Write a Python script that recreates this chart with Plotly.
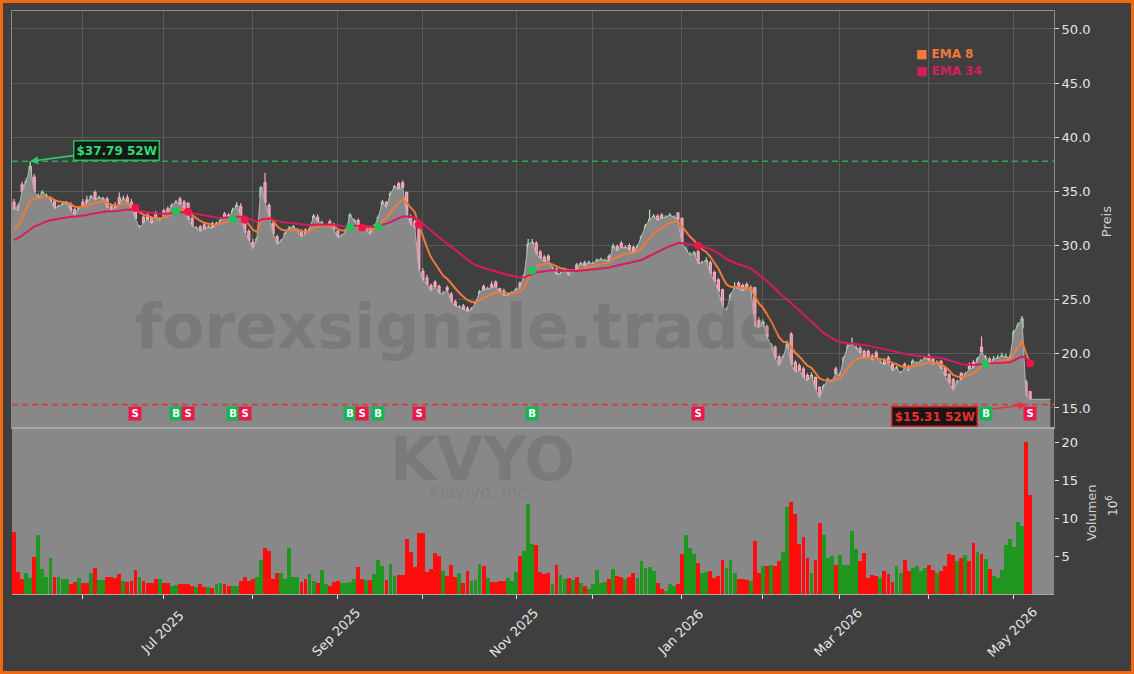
import pandas as pd
import plotly.graph_objects as go
from plotly.subplots import make_subplots

# ---------------- data ----------------
open_ = [
    34.0, 33.6, 35.6, 35.2, 36.0, 36.3, 33.9, 34.2, 34.3, 33.6,
    34.1, 33.0, 33.4, 33.5, 33.8, 33.3, 32.8, 34.0, 34.2, 33.8,
    34.9, 33.9, 34.0, 34.3, 33.6, 33.7, 34.4, 33.8, 34.4, 34.0,
    33.4, 31.0, 32.6, 32.8, 32.5, 33.0, 31.9, 33.2, 33.4, 33.1,
    33.5, 34.3, 34.0, 33.9, 32.5, 31.2, 31.7, 31.9, 31.3, 32.0,
    31.6, 31.9, 32.9, 32.8, 32.6, 33.0, 33.6, 32.4, 31.3, 30.3,
    29.9, 34.5, 35.8, 33.7, 32.0, 30.8, 29.9, 30.5, 30.9, 31.2,
    31.0, 31.3, 31.4, 31.0, 31.8, 32.6, 31.6, 31.5, 32.2, 31.9,
    31.3, 30.4, 30.9, 31.8, 31.9, 32.3, 31.8, 31.0, 31.6, 31.3,
    31.9, 33.0, 34.0, 33.7, 34.8, 35.7, 35.8, 34.9, 32.6, 32.2,
    32.2, 27.6, 27.0, 26.3, 26.6, 26.2, 25.2, 26.1, 25.5, 24.8,
    24.0, 24.4, 24.2, 23.8, 24.2, 24.8, 26.2, 25.6, 26.4, 26.6,
    26.0, 25.8, 25.1, 25.3, 25.5, 26.5, 26.3, 27.4, 29.6, 30.2,
    29.4, 28.9, 29.0, 27.5, 27.8, 26.9, 27.2, 27.7, 27.0, 28.2,
    27.9, 28.4, 28.1, 28.0, 28.1, 28.4, 28.3, 29.0, 28.8, 29.9,
    30.2, 29.4, 30.0, 29.8, 29.4, 30.0, 30.9, 31.7, 32.1, 32.7,
    32.8, 32.3, 32.4, 32.2, 33.0, 32.5, 29.0, 28.5, 28.6, 29.4,
    27.6, 27.9, 28.4, 27.5, 26.8, 25.9, 23.1, 24.2, 25.5, 26.5,
    26.3, 26.4, 25.6, 26.1, 23.1, 22.2, 22.5, 20.3, 20.6, 19.7,
    18.9, 19.8, 21.8, 19.2, 18.9, 18.6, 18.0, 17.5, 17.8, 16.9,
    16.0, 17.0, 17.0, 18.6, 17.6, 18.2, 19.6, 20.1, 20.0, 20.5,
    20.2, 20.2, 19.8, 20.1, 18.8, 19.4, 19.6, 19.0, 18.3, 17.8,
    19.0, 18.8, 18.6, 18.8, 18.9, 19.2, 19.8, 19.5, 18.8, 19.3,
    18.7, 18.1, 17.6, 16.6, 18.2, 17.4, 19.0, 19.2, 18.8, 20.6,
    19.3, 19.5, 19.1, 19.3, 19.4, 19.4, 19.3, 21.3, 22.0, 22.4,
    17.4, 16.5,
]
high = [
    34.3, 33.9, 35.9, 36.2, 37.79, 36.6, 34.8, 35.1, 34.8, 34.5,
    34.3, 33.8, 34.0, 34.1, 34.0, 33.5, 33.6, 34.3, 34.6, 34.7,
    35.1, 34.6, 34.5, 34.5, 33.9, 34.0, 34.9, 34.6, 34.7, 34.3,
    33.6, 31.9, 32.8, 33.0, 32.7, 33.2, 32.6, 33.4, 33.6, 33.9,
    34.2, 34.5, 34.2, 34.0, 32.7, 31.8, 31.9, 32.1, 31.9, 32.2,
    32.2, 32.5, 33.1, 33.0, 33.5, 34.0, 33.9, 32.6, 31.5, 30.6,
    30.8, 35.5, 36.7, 33.9, 32.2, 31.0, 30.6, 31.3, 31.8, 31.9,
    31.6, 31.5, 31.6, 31.7, 32.9, 32.9, 32.3, 32.0, 32.4, 32.1,
    31.5, 31.1, 31.6, 33.0, 32.5, 32.5, 32.0, 31.7, 31.8, 32.0,
    32.8, 34.2, 34.1, 35.0, 35.6, 35.9, 36.0, 35.0, 32.9, 32.4,
    32.4, 27.9, 27.3, 26.5, 26.8, 26.4, 25.8, 26.3, 25.7, 25.0,
    24.5, 24.6, 24.4, 24.3, 24.9, 25.9, 26.4, 26.2, 26.7, 26.8,
    26.1, 26.0, 25.6, 25.8, 26.1, 26.7, 27.4, 30.6, 30.6, 30.4,
    29.6, 29.1, 29.2, 28.1, 28.0, 27.6, 27.9, 27.8, 27.8, 28.4,
    28.5, 28.6, 28.6, 28.5, 28.8, 28.9, 28.8, 29.2, 30.2, 30.1,
    30.4, 30.0, 30.2, 30.0, 30.1, 31.0, 32.0, 33.3, 32.9, 32.9,
    33.0, 32.8, 33.0, 32.8, 33.1, 32.6, 29.9, 29.4, 29.5, 29.6,
    28.6, 28.9, 28.6, 27.7, 27.0, 26.0, 24.3, 25.6, 26.6, 26.7,
    26.5, 26.6, 26.3, 26.2, 23.4, 23.2, 22.7, 21.0, 20.8, 19.9,
    19.9, 21.2, 22.0, 19.4, 19.1, 18.8, 18.2, 18.3, 17.9, 17.0,
    17.2, 17.8, 17.6, 18.8, 18.3, 19.8, 20.9, 21.5, 20.8, 20.7,
    20.4, 20.4, 20.0, 20.3, 19.4, 19.6, 19.8, 19.1, 18.9, 18.4,
    19.2, 19.0, 19.5, 19.3, 19.5, 19.8, 20.0, 19.7, 19.4, 19.4,
    18.8, 18.2, 17.8, 17.6, 18.3, 18.3, 19.2, 19.4, 19.7, 21.6,
    19.9, 19.7, 19.8, 19.9, 20.1, 20.0, 19.9, 22.2, 22.9, 23.5,
    17.6, 16.6,
]
low = [
    33.1, 32.9, 34.8, 35.0, 35.8, 34.7, 33.6, 34.0, 33.9, 33.3,
    33.2, 32.8, 33.2, 33.3, 33.0, 32.5, 32.6, 33.4, 33.7, 33.6,
    34.0, 33.7, 33.6, 33.3, 32.9, 33.2, 33.7, 33.6, 33.8, 33.2,
    32.3, 30.9, 31.9, 32.2, 31.8, 32.3, 31.7, 32.6, 32.8, 33.0,
    33.4, 33.6, 33.2, 32.2, 31.6, 31.0, 31.1, 31.3, 31.2, 31.4,
    31.5, 31.8, 32.3, 32.2, 32.5, 32.9, 32.5, 31.0, 30.3, 29.4,
    29.7, 34.3, 33.9, 32.5, 30.9, 29.9, 29.8, 30.3, 30.7, 31.0,
    30.8, 30.6, 30.9, 30.8, 31.7, 32.0, 31.5, 31.3, 31.6, 31.3,
    30.5, 30.3, 30.8, 31.7, 31.7, 31.4, 31.0, 30.9, 30.8, 31.2,
    31.8, 32.9, 33.3, 33.6, 34.7, 35.0, 35.2, 32.5, 31.6, 31.4,
    27.5, 26.5, 26.1, 25.6, 26.0, 25.4, 25.0, 25.6, 24.6, 24.2,
    23.8, 23.9, 23.7, 23.6, 24.0, 24.7, 25.7, 25.5, 25.9, 26.0,
    25.4, 25.2, 25.0, 25.1, 25.3, 25.9, 26.2, 27.3, 29.4, 29.0,
    28.6, 28.3, 28.5, 27.3, 27.1, 26.8, 27.1, 27.0, 26.6, 27.6,
    27.8, 27.9, 28.0, 27.9, 28.0, 28.3, 28.2, 28.4, 28.7, 29.3,
    29.6, 29.3, 29.4, 29.1, 29.3, 29.9, 30.8, 31.6, 32.0, 32.1,
    32.3, 32.2, 32.3, 32.0, 32.3, 30.0, 28.8, 28.2, 28.4, 28.1,
    27.4, 27.8, 27.2, 26.5, 25.6, 24.2, 22.9, 24.1, 25.4, 25.8,
    25.6, 25.8, 25.4, 22.3, 22.2, 22.0, 21.4, 20.1, 19.4, 18.6,
    18.7, 19.6, 18.8, 18.1, 18.2, 17.6, 17.3, 17.3, 16.5, 15.6,
    15.8, 16.8, 16.8, 18.0, 17.4, 18.1, 19.5, 20.0, 19.8, 19.9,
    19.4, 19.6, 19.2, 19.5, 18.7, 18.8, 19.0, 18.2, 18.1, 17.6,
    18.5, 18.2, 18.5, 18.7, 18.8, 19.1, 19.2, 18.8, 18.7, 18.4,
    17.8, 17.1, 16.4, 16.4, 17.4, 17.3, 18.4, 18.5, 18.7, 20.0,
    19.1, 18.8, 19.0, 19.2, 19.3, 19.2, 19.1, 21.2, 21.9, 22.3,
    15.31, 15.6,
]
close = [
    33.4, 33.2, 35.0, 35.9, 37.3, 35.0, 34.4, 34.9, 34.6, 34.2,
    33.4, 33.6, 33.8, 33.9, 33.2, 32.8, 33.4, 33.6, 33.9, 34.5,
    34.2, 34.4, 34.3, 33.5, 33.1, 33.4, 33.9, 34.3, 34.0, 33.4,
    32.5, 31.6, 32.1, 32.4, 32.0, 32.5, 32.3, 32.8, 33.0, 33.7,
    34.0, 33.8, 33.4, 32.4, 31.8, 31.6, 31.3, 31.5, 31.7, 31.6,
    32.0, 32.3, 32.6, 32.5, 33.2, 33.7, 32.7, 31.2, 30.5, 29.7,
    30.6, 35.3, 34.0, 32.7, 31.1, 30.1, 30.4, 31.1, 31.6, 31.7,
    31.4, 30.8, 31.1, 31.5, 32.7, 32.2, 32.1, 31.8, 31.8, 31.5,
    30.7, 30.9, 31.4, 32.8, 32.3, 31.6, 31.2, 31.5, 31.0, 31.8,
    32.6, 34.0, 33.5, 34.8, 35.4, 35.2, 35.4, 32.8, 31.9, 31.7,
    27.8, 26.8, 26.4, 25.8, 26.2, 25.6, 25.5, 25.9, 24.8, 24.4,
    24.3, 24.1, 23.9, 24.1, 24.7, 25.7, 25.9, 26.0, 26.1, 26.2,
    25.6, 25.4, 25.4, 25.6, 25.9, 26.1, 27.2, 30.1, 30.3, 29.2,
    28.8, 28.5, 28.7, 27.9, 27.3, 27.4, 27.7, 27.2, 27.6, 27.8,
    28.3, 28.1, 28.4, 28.3, 28.6, 28.7, 28.6, 28.6, 29.9, 29.5,
    29.8, 29.8, 29.6, 29.3, 29.9, 30.8, 31.8, 32.4, 32.7, 32.3,
    32.5, 32.6, 32.8, 32.6, 32.4, 30.2, 29.6, 29.1, 29.3, 28.3,
    28.4, 28.6, 27.4, 26.7, 25.8, 24.4, 24.0, 25.4, 26.2, 26.0,
    25.8, 26.0, 26.1, 22.6, 22.4, 22.9, 21.6, 20.8, 19.6, 18.9,
    19.7, 20.9, 19.0, 18.3, 18.5, 17.8, 17.5, 18.0, 16.7, 15.9,
    17.0, 17.6, 17.4, 18.2, 18.0, 19.6, 20.7, 20.9, 20.5, 20.1,
    19.6, 19.8, 19.4, 19.7, 19.2, 19.0, 19.2, 18.4, 18.7, 18.2,
    18.7, 18.4, 19.3, 19.1, 19.3, 19.6, 19.4, 19.0, 19.2, 18.6,
    18.0, 17.3, 16.6, 17.4, 17.6, 18.1, 18.6, 18.7, 19.5, 20.2,
    19.6, 19.0, 19.5, 19.6, 19.8, 19.7, 19.6, 22.0, 22.6, 23.2,
    16.1, 15.8,
]
volume_m = [
    8.2, 2.9, 2.0, 2.8, 2.1, 4.9, 7.7, 3.3, 2.3, 4.8,
    2.3, 2.3, 2.0, 2.0, 1.3, 1.6, 2.1, 1.4, 1.4, 2.8,
    3.4, 1.8, 1.8, 2.3, 2.3, 2.1, 2.6, 1.7, 1.6, 1.7,
    3.2, 2.2, 1.7, 1.4, 1.4, 2.0, 2.0, 1.4, 1.4, 1.1,
    1.2, 1.3, 1.3, 1.3, 1.1, 0.9, 1.3, 0.9, 0.9, 0.8,
    1.3, 1.4, 1.3, 1.1, 1.1, 1.1, 1.7, 2.3, 1.7, 2.0,
    2.3, 4.5, 6.0, 5.7, 2.0, 2.8, 2.8, 2.0, 6.0, 2.3,
    2.2, 1.6, 2.0, 2.6, 1.7, 1.4, 3.1, 1.3, 1.1, 1.6,
    1.7, 1.4, 1.4, 1.6, 2.0, 3.6, 2.0, 1.8, 1.8, 2.6,
    4.5, 3.7, 1.8, 3.9, 2.4, 2.5, 2.5, 7.2, 5.5, 3.6,
    8.0, 8.0, 2.9, 3.3, 5.4, 5.0, 3.0, 2.4, 3.8, 2.3,
    2.8, 1.4, 3.0, 1.7, 1.8, 3.9, 3.7, 2.1, 1.6, 1.6,
    1.7, 1.7, 2.1, 1.7, 2.9, 5.0, 5.6, 11.8, 6.6, 6.5,
    2.9, 2.6, 2.7, 1.3, 3.8, 2.5, 2.0, 2.1, 1.8, 2.2,
    1.5, 1.1, 0.7, 1.3, 3.2, 1.4, 1.6, 2.0, 3.3, 2.4,
    2.2, 2.0, 2.2, 2.8, 2.1, 4.3, 3.4, 3.6, 3.0, 1.5,
    0.7, 0.4, 1.3, 1.1, 1.3, 5.2, 7.8, 6.0, 5.2, 4.1,
    2.7, 2.9, 3.0, 2.1, 2.4, 4.5, 3.4, 4.5, 2.7, 2.0,
    2.0, 1.9, 1.7, 7.0, 2.7, 3.7, 3.7, 3.8, 3.7, 4.3,
    5.5, 11.5, 12.1, 10.5, 6.6, 7.5, 4.7, 2.8, 4.5, 9.3,
    7.8, 4.7, 5.0, 3.8, 5.1, 3.8, 3.8, 8.3, 5.9, 4.3,
    5.4, 2.1, 2.5, 2.4, 2.1, 3.0, 2.6, 1.6, 3.7, 2.8,
    4.5, 3.0, 3.4, 3.7, 3.0, 3.4, 3.8, 3.2, 2.7, 3.0,
    3.7, 5.3, 5.1, 4.3, 4.7, 5.1, 4.3, 6.7, 5.5, 5.2,
    4.6, 3.3, 2.4, 2.1, 3.2, 6.5, 7.2, 6.2, 9.5, 8.9,
    20.0, 13.0,
]
# closes before the visible window (only used to warm up the EMAs)
pre_close = [
    29.1, 28.7, 29.4, 30.2, 29.8, 30.5, 31.0, 30.4, 29.9, 30.3,
    30.8, 31.2, 30.6, 30.1, 29.7, 30.2, 30.9, 31.4, 30.8, 30.3,
    30.2, 30.6, 31.1, 30.7, 30.4, 30.8, 31.2, 30.7, 31.1, 31.0,
]
signal_idx = [30, 40, 43, 54, 57, 83, 86, 90, 100, 128, 169, 240, 251]
signal_type = ["S", "B", "S", "B", "S", "B", "S", "B", "S", "B", "S", "B", "S"]
high_52w = 37.79
low_52w = 15.31
high_52w_idx = 4
low_52w_idx = 250
holidays = ["2025-05-26", "2025-06-19", "2025-07-04", "2025-09-01", "2025-11-27",
            "2025-12-25", "2026-01-01", "2026-01-19", "2026-02-16", "2026-04-03"]
start_date = "2025-05-07"
end_date = "2026-05-07"
ticker = "KVYO"
company = "Klaviyo, Inc."

# ---------------- derived ----------------
n = len(close)
dates = [d for d in pd.bdate_range(start_date, end_date) if d.strftime("%Y-%m-%d") not in holidays][:n]
idx = list(range(n))

tick_idx, tick_lab = [], []
for i in range(1, len(dates)):
    if dates[i].month != dates[i - 1].month:
        tick_idx.append(i)
        tick_lab.append(dates[i].strftime("%b %Y") if dates[i].month % 2 == 1 else "")

hist = pd.Series(pre_close + close)
ema8 = hist.ewm(span=8, adjust=False).mean().iloc[len(pre_close):].tolist()
ema34 = hist.ewm(span=34, adjust=False).mean().iloc[len(pre_close):].tolist()

vol_colors = ["#1f961f" if c > o else "#ff0d0d" for o, c in zip(open_, close)]

C_EMA8 = "#f07a3a"
C_EMA34 = "#d81b60"
C_GREEN = "#2ecc71"
C_RED = "#e8333a"
BG = "#3f3f3f"
FILL = "#888888"

fig = make_subplots(rows=2, cols=1, shared_xaxes=True, vertical_spacing=0,
                    row_heights=[0.7153, 0.2847])

# gray area under close
fill_x = [-0.5] + idx + [n + 4]
fill_y = [close[0]] + close + [close[-1]]
fig.add_trace(go.Scatter(x=fill_x, y=fill_y, mode="lines", fill="tozeroy",
                         fillcolor=FILL, line=dict(color="#b4b4b4", width=1),
                         hoverinfo="skip", showlegend=False), row=1, col=1)

fig.add_trace(go.Candlestick(
    x=idx, open=open_, high=high, low=low, close=close,
    increasing=dict(fillcolor="#5fcf5f", line=dict(color="#a6eba6", width=1.2)),
    decreasing=dict(fillcolor="#ee7f9c", line=dict(color="#f6aec0", width=1.2)),
    showlegend=False), row=1, col=1)

fig.add_trace(go.Scatter(x=idx, y=ema8, mode="lines", line=dict(color=C_EMA8, width=2),
                         showlegend=False), row=1, col=1)
fig.add_trace(go.Scatter(x=idx, y=ema34, mode="lines", line=dict(color=C_EMA34, width=2),
                         showlegend=False), row=1, col=1)

dot_col = ["#1fc45a" if t == "B" else "#f0144b" for t in signal_type]
fig.add_trace(go.Scatter(x=signal_idx, y=[ema8[i] for i in signal_idx], mode="markers",
                         marker=dict(color=dot_col, size=8), showlegend=False), row=1, col=1)

fig.add_trace(go.Bar(x=idx, y=volume_m, marker=dict(color=vol_colors, line=dict(width=0)),
                     width=0.95, showlegend=False), row=2, col=1)

# ---------------- layout ----------------
shapes = [
    dict(type="rect", xref="paper", yref="y2 domain", x0=0, x1=1, y0=0, y1=1,
         fillcolor=FILL, line=dict(width=0), layer="below"),
    dict(type="line", xref="paper", yref="y", x0=0, x1=1, y0=high_52w, y1=high_52w,
         line=dict(color="#2fa85c", width=1.6, dash="6px,4px")),
    dict(type="line", xref="paper", yref="y", x0=0, x1=1, y0=low_52w, y1=low_52w,
         line=dict(color="#d93a3a", width=1.6, dash="6px,4px")),
    dict(type="line", xref="paper", yref="paper", x0=0, x1=1, y0=0.2847, y1=0.2847,
         line=dict(color="#a8a8a8", width=2)),
    dict(type="rect", xref="paper", yref="paper", x0=-0.0101, x1=1.0753, y0=-0.1347, y1=1.0163,
         line=dict(color="#f26a10", width=3), fillcolor="rgba(0,0,0,0)"),
]

ann = []
# watermark
ann.append(dict(text="<b>forexsignale.trade</b>", xref="paper", yref="paper", x=0.428, y=0.458,
                xanchor="center", showarrow=False, font=dict(size=62, color="rgba(40,40,40,0.14)")))
ann.append(dict(text="<b>" + ticker + "</b>", xref="paper", yref="paper", x=0.452, y=0.168,
                xanchor="center", showarrow=False, font=dict(size=60, color="rgba(40,40,40,0.14)")))
ann.append(dict(text=company, xref="paper", yref="paper", x=0.450, y=0.154,
                xanchor="center", showarrow=False, font=dict(size=17, color="rgba(40,40,40,0.11)")))
# legend
ann.append(dict(text="<b>■ EMA 8</b>", xref="paper", yref="paper", x=0.8656, y=0.941,
                xanchor="left", showarrow=False, font=dict(size=12, color=C_EMA8)))
ann.append(dict(text="<b>■ EMA 34</b>", xref="paper", yref="paper", x=0.8656, y=0.913,
                xanchor="left", showarrow=False, font=dict(size=12, color=C_EMA34)))
# 52W labels
ann.append(dict(text="<b>$%.2f 52W</b>" % high_52w, x=high_52w_idx, y=high_52w, xref="x", yref="y",
                ax=86, ay=-11, showarrow=True, arrowhead=2, arrowsize=1, arrowwidth=1.6,
                arrowcolor=C_GREEN, font=dict(size=12, color="#39d77a"),
                bgcolor="#101c13", bordercolor="#2fb862", borderwidth=1.5, borderpad=2))
ann.append(dict(text="<b>$%.2f 52W</b>" % low_52w, x=low_52w_idx, y=low_52w, xref="x", yref="y",
                ax=-92, ay=12, showarrow=True, arrowhead=2, arrowsize=1, arrowwidth=1.6,
                arrowcolor=C_RED, font=dict(size=12, color="#e8302e"),
                bgcolor="#1c1414", bordercolor="#c82a2a", borderwidth=1.5, borderpad=2))
# signal boxes
for i, t in zip(signal_idx, signal_type):
    ann.append(dict(text="<b>%s</b>" % t, x=i, y=14.45, xref="x", yref="y", showarrow=False,
                    xanchor="center", width=12, height=13, borderpad=0,
                    bgcolor="#16b455" if t == "B" else "#e8194b",
                    font=dict(size=10, color="white")))
# x labels (centered under ticks, rotated)
for i, lab in zip(tick_idx, tick_lab):
    if lab:
        ann.append(dict(text=lab, x=i - 0.5, y=-0.0652, xref="x2", yref="paper", showarrow=False,
                        textangle=-45, xanchor="center", yanchor="middle",
                        font=dict(size=13, color="#e6e6e6")))
# axis titles
ann.append(dict(text="Preis", xref="paper", yref="paper", x=1.05, y=0.638, showarrow=False,
                xanchor="center", yanchor="middle", textangle=-90,
                font=dict(size=13, color="#cfcfcf")))
ann.append(dict(text="Volumen", xref="paper", yref="paper", x=1.0365, y=0.139, showarrow=False,
                xanchor="center", yanchor="middle", textangle=-90,
                font=dict(size=13, color="#cfcfcf")))
ann.append(dict(text="10<sup>6</sup>", xref="paper", yref="paper", x=1.0557, y=0.151, showarrow=False,
                xanchor="center", yanchor="middle", textangle=-90,
                font=dict(size=12, color="#e0e0e0")))

fig.update_layout(
    width=1134, height=674,
    margin=dict(l=12, r=80, t=11, b=80),
    paper_bgcolor=BG, plot_bgcolor=BG,
    font=dict(family="DejaVu Sans", color="#e6e6e6"),
    showlegend=False,
    shapes=shapes, annotations=ann,
    bargap=0,
)
fig.update_xaxes(range=[-0.5, 256.9], tickvals=tick_idx, ticktext=tick_lab,
                 rangeslider=dict(visible=False), zeroline=False)
fig.update_xaxes(showgrid=True, gridcolor="#5a5a5a", gridwidth=1, showticklabels=False,
                 showline=True, linecolor="#8c8c8c", mirror=True, ticks="", row=1, col=1)
fig.update_xaxes(showgrid=False, showticklabels=False, ticks="outside", ticklen=4,
                 tickcolor="#dddddd", showline=True, linecolor="#a8a8a8", row=2, col=1)
fig.update_yaxes(side="right", range=[13.15, 51.66], dtick=5, tick0=0, tickformat=".1f",
                 showgrid=True, gridcolor="#5a5a5a", zeroline=False,
                 showline=True, linecolor="#8c8c8c", mirror=True,
                 ticks="outside", ticklen=4, tickcolor="#dddddd",
                 tickfont=dict(size=13, color="#e6e6e6"), row=1, col=1)
fig.update_yaxes(side="right", range=[0, 21.85], tickvals=[5, 10, 15, 20],
                 showgrid=False, zeroline=False, showline=False,
                 ticks="outside", ticklen=4, tickcolor="#dddddd",
                 tickfont=dict(size=13, color="#e6e6e6"), row=2, col=1)

fig.write_html("out.html")
